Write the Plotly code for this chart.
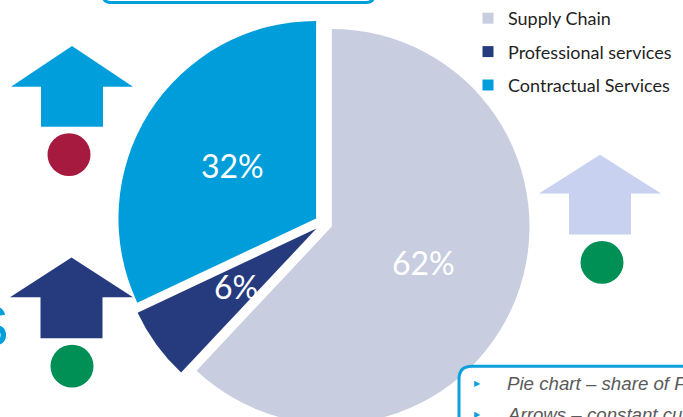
import math
import plotly.graph_objects as go

# ---- data ----
categories = ["Supply Chain", "Professional services", "Contractual Services"]
shares = [62, 6, 32]
slice_colors = ["#c9cde0", "#263a7e", "#009ddb"]

W, H = 683, 440
PULL = 0.045
DOM_X = [0.1707, 0.7769]
DOM_Y = [0.0232, 0.9641]


def px(x):
    return x / W


def py(y):
    return 1 - y / H


def path_from(points):
    return "M " + " L ".join(f"{px(x)},{py(y)}" for x, y in points) + " Z"


def arrow(cx, top, base_y, half_head, half_stem, bottom):
    pts = [(cx, top), (cx + half_head, base_y), (cx + half_stem, base_y),
           (cx + half_stem, bottom), (cx - half_stem, bottom),
           (cx - half_stem, base_y), (cx - half_head, base_y)]
    return path_from(pts)


fig = go.Figure()

fig.add_trace(go.Pie(
    labels=categories,
    values=shares,
    sort=False,
    direction="clockwise",
    rotation=0,
    pull=PULL,
    marker=dict(colors=slice_colors, line=dict(width=0)),
    textinfo="none",
    domain=dict(x=DOM_X, y=DOM_Y),
    showlegend=False,
    hoverinfo="label+percent",
))

# percentage labels placed at half radius on each slice's bisector
# (same geometry plotly uses for the pie: centre of domain, r = min(w,h)/(2(1+pull)))
dom_w = W * (DOM_X[1] - DOM_X[0])
dom_h = H * (DOM_Y[1] - DOM_Y[0])
R = min(dom_w, dom_h) / (2 * (1 + PULL))
CX = W * (DOM_X[0] + DOM_X[1]) / 2
CY = H * (1 - (DOM_Y[0] + DOM_Y[1]) / 2)
total = sum(shares)
annotations = []
cum = 0
for v in shares:
    theta = 2 * math.pi * (cum + v / 2) / total
    ux, uy = math.sin(theta), -math.cos(theta)
    lx = CX + (PULL * R + 0.5 * R) * ux
    ly = CY + (PULL * R + 0.5 * R) * uy
    annotations.append(dict(xref="paper", yref="paper", x=px(lx), y=py(ly),
                            text=f"{round(100 * v / total)}%", showarrow=False,
                            xanchor="center", yanchor="middle",
                            font=dict(family="Lato", size=32, color="white")))
    cum += v

# legend entries (square swatches)
for name, col in zip(categories, slice_colors):
    fig.add_trace(go.Scatter(
        x=[None], y=[None], mode="markers", name=name, legendgroup=name,
        marker=dict(symbol="square", size=11, color=col),
    ))

shapes = []
# arrows
shapes.append(dict(type="path", xref="paper", yref="paper",
                   path=arrow(72, 45, 86, 61, 31, 126),
                   fillcolor="#009fdb", line=dict(width=0)))
shapes.append(dict(type="path", xref="paper", yref="paper",
                   path=arrow(71.5, 257, 297, 61.5, 31, 338),
                   fillcolor="#263a7e", line=dict(width=0)))
shapes.append(dict(type="path", xref="paper", yref="paper",
                   path=arrow(600, 154, 193, 61, 31, 234),
                   fillcolor="#c8d1ef", line=dict(width=0)))
# circles
for (cx, cy, col) in [(69, 154, "#a71a40"), (72, 366, "#008f54"), (602, 262, "#008f54")]:
    r = 21.5
    shapes.append(dict(type="circle", xref="paper", yref="paper",
                       x0=px(cx - r), x1=px(cx + r), y0=py(cy + r), y1=py(cy - r),
                       fillcolor=col, line=dict(width=0)))


def rounded_rect(x0, y0, x1, y1, rad):
    return (f"M {px(x0 + rad)},{py(y0)} L {px(x1 - rad)},{py(y0)} "
            f"Q {px(x1)},{py(y0)} {px(x1)},{py(y0 + rad)} "
            f"L {px(x1)},{py(y1 - rad)} Q {px(x1)},{py(y1)} {px(x1 - rad)},{py(y1)} "
            f"L {px(x0 + rad)},{py(y1)} Q {px(x0)},{py(y1)} {px(x0)},{py(y1 - rad)} "
            f"L {px(x0)},{py(y0 + rad)} Q {px(x0)},{py(y0)} {px(x0 + rad)},{py(y0)} Z")


# top box (only bottom edge visible)
shapes.append(dict(type="path", xref="paper", yref="paper",
                   path=rounded_rect(103, -40, 374, 1.5, 8),
                   fillcolor="rgba(0,0,0,0)", line=dict(color="#009fdb", width=3)))
# bottom-right note box
shapes.append(dict(type="path", xref="paper", yref="paper",
                   path=rounded_rect(459, 366, 720, 480, 13),
                   fillcolor="white", line=dict(color="#0ea0dc", width=3),
                   layer="above"))

# bullets and note text
for yy, txt in [(383, "Pie chart – share of FY spend"),
                (414, "Arrows – constant currency")]:
    annotations.append(dict(xref="paper", yref="paper", x=px(477), y=py(yy),
                            text="▶", showarrow=False, xanchor="center", yanchor="middle",
                            font=dict(family="DejaVu Sans", size=8, color="#0e9fd9")))
    annotations.append(dict(xref="paper", yref="paper", x=px(505), y=py(yy),
                            text=f"<i>{txt}</i>", showarrow=False, xanchor="left",
                            yanchor="middle",
                            font=dict(family="Liberation Sans", size=18.7, color="#5a5a5a")))
# partially visible heading letter at left edge
annotations.append(dict(xref="paper", yref="paper", x=px(11), y=py(325),
                        text="S", showarrow=False, xanchor="right", yanchor="middle",
                        font=dict(family="Liberation Sans", size=58, color="#009fdb")))

fig.update_layout(
    width=W, height=H,
    margin=dict(l=0, r=0, t=0, b=0),
    paper_bgcolor="white", plot_bgcolor="white",
    xaxis=dict(visible=False), yaxis=dict(visible=False),
    shapes=shapes, annotations=annotations,
    showlegend=True,
    legend=dict(x=px(468), y=py(-1.5), xanchor="left", yanchor="top",
                bgcolor="rgba(0,0,0,0)", tracegroupgap=7,
                font=dict(family="Lato", size=18, color="#1f1f1f")),
)

fig.write_html("out.html")
